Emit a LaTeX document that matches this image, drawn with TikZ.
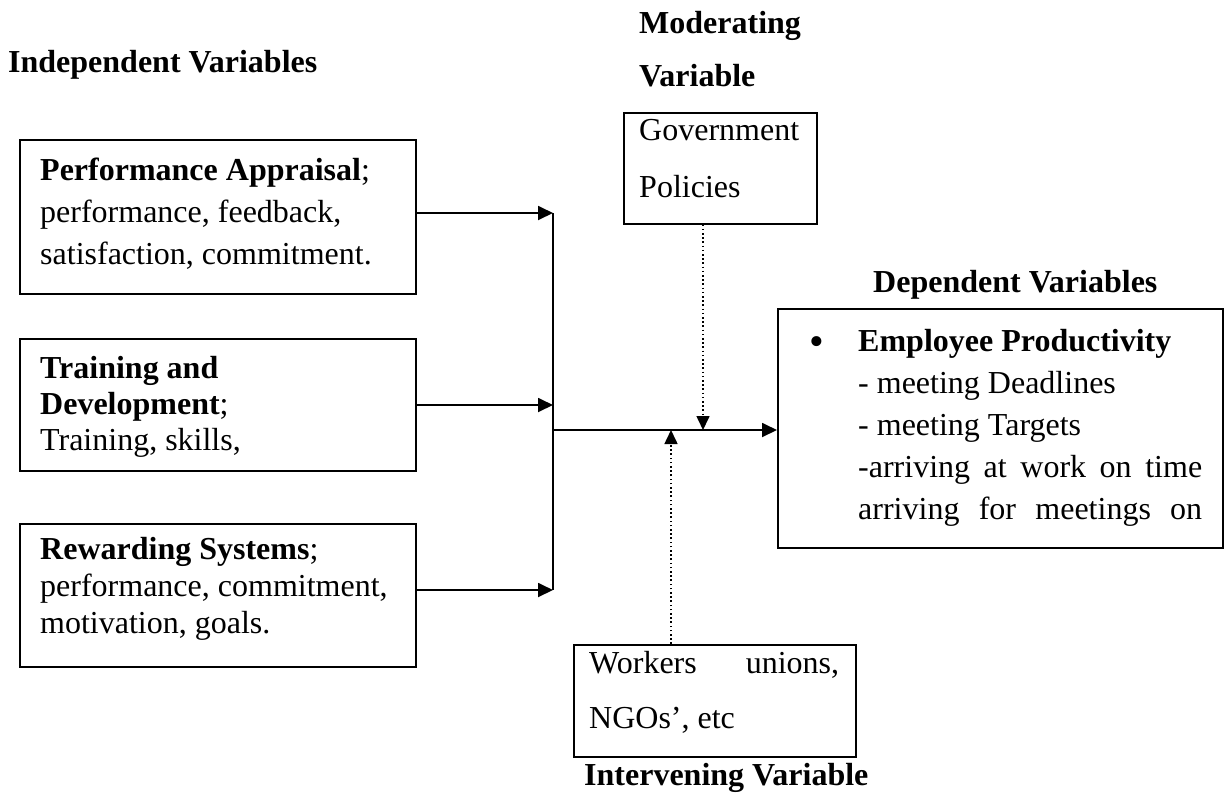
\documentclass[tikz,border=0pt]{standalone}
\usepackage{fontspec}
\setmainfont{Liberation Serif}
\usetikzlibrary{arrows.meta,calc}
\begin{document}
\begin{tikzpicture}[x=1pt,y=-1pt,
  boxnode/.style={draw, line width=1.6pt, inner sep=0pt, anchor=north west},
  txt/.style={anchor=base west, inner sep=0pt, font=\fontsize{32}{42}\selectfont},
  conn/.style={line width=1.8pt, -{Triangle[length=15pt,width=14pt]}},
  plainline/.style={line width=1.8pt},
  dotconn/.style={line width=1.6pt, dash pattern=on 1.6pt off 2.6pt, -{Triangle[length=14pt,width=13pt]}}
]
\useasboundingbox (0,0) rectangle (1225,793);
\fill[white] (0,0) rectangle (1225,793);

% headings
\node[txt] (hind) at (8,72) {\textbf{Independent Variables}};
\node[txt, font=\fontsize{32}{53}\selectfont] (hmod) at (639,33) {\parbox[t]{200pt}{\textbf{Moderating}\\\textbf{Variable}}};
\node[txt] (hdep) at (873,292) {\textbf{Dependent Variables}};
\node[txt] (hint) at (584,785) {\textbf{Intervening Variable}};

% independent boxes
\node[boxnode, minimum width=396pt, minimum height=154pt] (b1) at (19,139) {};
\node[txt] (t1) at (40,180) {\parbox[t]{370pt}{\textbf{Performance Appraisal};\\performance, feedback,\\satisfaction, commitment.}};

\node[boxnode, minimum width=396pt, minimum height=132pt] (b2) at (19,338) {};
\node[txt, font=\fontsize{32}{36}\selectfont] (t2) at (40,378) {\parbox[t]{370pt}{\textbf{Training and}\\\textbf{Development};\\Training, skills,}};

\node[boxnode, minimum width=396pt, minimum height=143pt] (b3) at (19,523) {};
\node[txt, font=\fontsize{32}{37}\selectfont] (t3) at (40,559) {\parbox[t]{370pt}{\textbf{Rewarding Systems};\\performance, commitment,\\motivation, goals.}};

% moderating box
\node[boxnode, minimum width=193pt, minimum height=111pt] (gov) at (623,112) {};
\node[txt, font=\fontsize{32}{57}\selectfont] (tgov) at (639,140) {\parbox[t]{170pt}{Government\\Policies}};

% intervening box
\node[boxnode, minimum width=282pt, minimum height=112pt] (int) at (573,644) {};
\node[txt, font=\fontsize{32}{55}\selectfont] (tint) at (589,673) {\parbox[t]{250pt}{\makebox[250pt][s]{Workers unions,}\\NGOs', etc}};

% dependent box
\node[boxnode, minimum width=445pt, minimum height=239pt] (dep) at (777,308) {};
\node[txt, font=\fontsize{42}{42}\selectfont] (bul) at (809,355) {\textbullet};
\node[txt] (tdep) at (858,351) {\parbox[t]{344pt}{\textbf{Employee Productivity}\\- meeting Deadlines\\- meeting Targets\\\makebox[344pt][s]{-arriving at work on time}\\\makebox[344pt][s]{arriving for meetings on}}};

% junction coordinates
\coordinate (a1) at (553,213);
\coordinate (a2) at (553,405);
\coordinate (a3) at (553,590);
\coordinate (jm) at (553,430);
\coordinate (mx) at (703,430);
\coordinate (ix) at (671,430);

% connectors
\draw[conn] (b1.east |- a1) -- (a1);
\draw[conn] (b2.east |- a2) -- (a2);
\draw[conn] (b3.east |- a3) -- (a3);
\draw[plainline] (a1) -- (a3);
\draw[conn] (jm) -- (jm -| dep.west);
\draw[dotconn] (mx |- gov.south) -- (mx);
\draw[dotconn] (ix |- int.north) -- (ix);
\end{tikzpicture}
\end{document}
